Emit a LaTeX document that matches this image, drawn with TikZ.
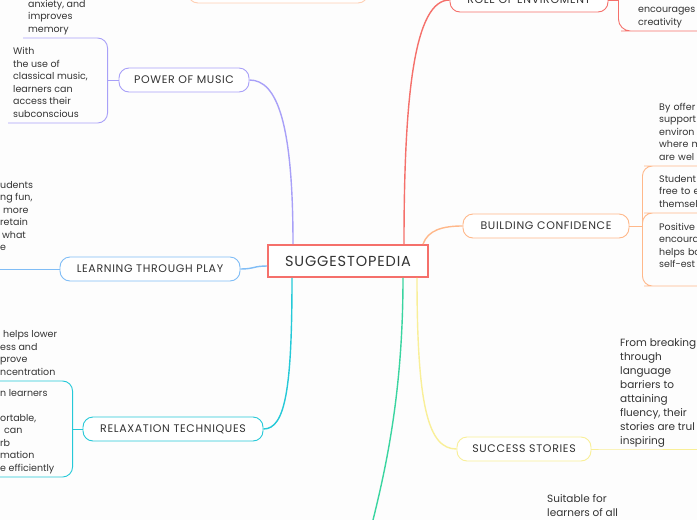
\documentclass[tikz,border=0pt]{standalone}
\usepackage{fontspec}
\setmainfont{Poppins}
\newfontfamily\capsfont[LetterSpace=6]{Poppins}
\usepackage{tikz}
\usetikzlibrary{positioning,calc}
\definecolor{ink}{HTML}{333333}
\definecolor{paper}{HTML}{FDFDFD}
\definecolor{rose}{HTML}{F5706B}
\definecolor{violet}{HTML}{A8A0F8}
\definecolor{azure}{HTML}{80BDF6}
\definecolor{aqua}{HTML}{25C9D8}
\definecolor{peach}{HTML}{FFB88A}
\definecolor{lemon}{HTML}{F9EF98}
\definecolor{jade}{HTML}{3AD5A0}
\definecolor{blush}{HTML}{FFCFB3}
\tikzset{
  branch/.style={line width=1.4pt},
  twig/.style={line width=0.9pt,rounded corners=10pt},
  topic/.style={rounded corners=10pt,draw,line width=0.9pt,fill=white,
    minimum height=24pt,inner sep=0pt,text=ink,
    font=\capsfont\fontsize{11}{12}\selectfont},
  note/.style={anchor=south west,inner xsep=5pt,inner ysep=2pt,align=left,
    text=ink,font=\fontsize{9.5}{12.5}\selectfont},
  bignote/.style={note,inner ysep=0.5pt,font=\fontsize{10.5}{14}\selectfont}
}
\begin{document}
\begin{tikzpicture}[x=1pt,y=-1pt]
  \fill[paper] (0,0) rectangle (697,520);
  \useasboundingbox (0,0) rectangle (697,520);
  % centre and main topics
  \node[draw=rose,line width=1.8pt,fill=white,minimum width=160pt,minimum height=32pt,
    text=ink,font=\capsfont\fontsize{14.5}{16}\selectfont] (core) at (348,261) {SUGGESTOPEDIA};
  \node[topic,draw=violet,minimum width=130pt] (music) at (184,80) {POWER OF MUSIC};
  \node[topic,draw=azure,minimum width=180pt] (play) at (150,269) {LEARNING THROUGH PLAY};
  \node[topic,draw=aqua,minimum width=180pt] (relax) at (173,429) {RELAXATION TECHNIQUES};
  \node[topic,draw=rose,minimum width=158pt] (envir) at (529,0) {ROLE OF ENVIROMENT};
  \node[topic,draw=peach,minimum width=166pt] (confid) at (546,226) {BUILDING CONFIDENCE};
  \node[topic,draw=lemon,minimum width=134pt] (success) at (524,449) {SUCCESS STORIES};
  \node[topic,draw=blush,minimum width=180pt] (offpage) at (278,-9) {};
  \coordinate (exit) at (366,548);
  % branches
  \draw[branch,violet] ([xshift=-55pt]core.north) .. controls +(0,-120) and +(28,0) .. (music.east);
  \draw[branch,azure] ([yshift=-5pt]core.west) .. controls +(-14,0) and +(14,0) .. (play.east);
  \draw[branch,aqua] ([xshift=-56pt]core.south) .. controls +(0,110) and +(22,0) .. (relax.east);
  \draw[branch,rose] ([xshift=56pt]core.north) .. controls +(0,-150) and +(-35,0) .. (envir.west);
  \draw[branch,peach] ([xshift=75pt]core.north) .. controls +(5,-14) and +(-20,0) .. (confid.west);
  \draw[branch,lemon] ([xshift=69pt]core.south) .. controls +(0,130) and +(-28,0) .. (success.west);
  \draw[branch,jade] ([xshift=55pt]core.south) .. controls +(0,130) and +(15,-60) .. (exit);
  % power of music
  \node[note] (memory) at (23,38) {anxiety, and\\improves\\memory\strut};
  \node[note] (subcon) at (8,123) {With\\the use of\\classical music,\\learners can\\access their\\subconscious\strut};
  \coordinate (mfork) at ([xshift=-11pt]music.west);
  \draw[twig,violet] (memory.south west) -| (mfork);
  \draw[twig,violet] (subcon.south west) -| (mfork);
  \draw[twig,violet] (mfork) -- (music.west);
  % learning through play
  \node[note] (fun) at (-5,269) {udents\\ng fun,\\\hspace*{3pt}more\\retain\\\hspace*{2pt}what\\e\\~\strut};
  \draw[twig,azure] (fun.south west) -- (play.west);
  % relaxation techniques
  \node[note] (lower) at (-5,381) {\hspace*{3pt}helps lower\\ess and\\prove\\ncentration\strut};
  \node[note] (absorb) at (-5,477) {n learners\\~\\ortable,\\\hspace*{4pt}can\\rb\\mation\\e efficiently\strut};
  \coordinate (rfork) at ([xshift=-10pt]relax.west);
  \draw[twig,aqua] (lower.south west) -| (rfork);
  \draw[twig,aqua] (absorb.south west) -| (rfork);
  \draw[twig,aqua] (rfork) -- (relax.west);
  % role of enviroment
  \node[note,text width=62pt] (creat) at (633,31) {encourages\\creativity\strut};
  \coordinate (efork) at ([xshift=10pt]envir.east);
  \draw[twig,rose,line width=1.2pt] (envir.east) -- (efork);
  \draw[twig,rose,rounded corners=12pt] (efork) |- (creat.south west) -- (creat.south east);
  % building confidence
  \node[note,text width=50pt] (offer) at (654,166) {By offer\\support\\environ\\where m\\are wel\strut};
  \node[note,text width=50pt] (free) at (654,213) {Student\\free to e\\themsel\strut};
  \node[note,text width=50pt] (boost) at (654,286) {Positive\\encoura\\helps bo\\self-est\\~\strut};
  \coordinate (cfork) at ([xshift=13pt]confid.east);
  \draw[twig,peach] (confid.east) -- (cfork);
  \foreach \kid in {offer,free,boost}
    \draw[twig,peach] (cfork) |- (\kid.south west) -- (\kid.south east);
  % success stories
  \node[bignote] (fluent) at (615,449) {From breaking\\through\\language\\barriers to\\attaining\\fluency, their\\stories are trul\\inspiring\strut};
  \draw[twig,lemon] (success.east) -- (fluent.south west) -- (fluent.south east);
  \node[bignote,anchor=north west,inner sep=0pt] (suitable) at (547,494) {Suitable for\\learners of all};
\end{tikzpicture}
\end{document}
